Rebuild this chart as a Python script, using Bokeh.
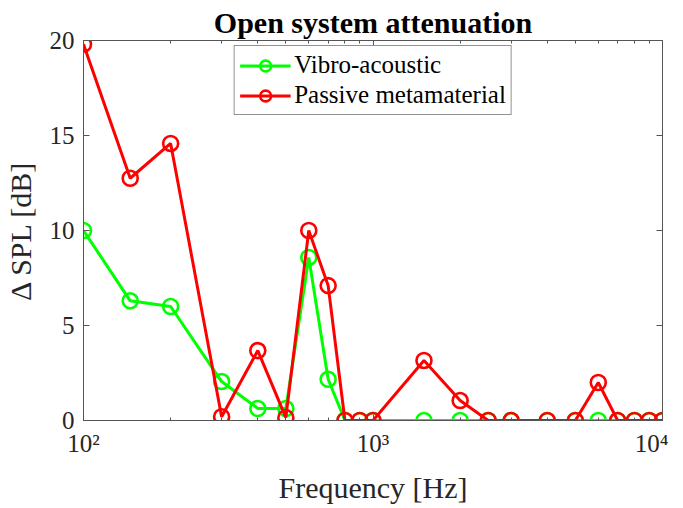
from bokeh.plotting import figure
from bokeh.models import LogAxis, LinearAxis, Range1d, FixedTicker, Legend, LegendItem
from bokeh.embed import file_html
from bokeh.resources import INLINE

freq = [100, 145, 200, 300, 400, 500, 600, 700, 800, 900, 1000, 1500, 2000,
        2500, 3000, 4000, 5000, 6000, 7000, 8000, 9000, 10000]
vibro = [10.0, 6.3, 6.0, 2.05, 0.63, 0.63, 8.58, 2.17, 0.0, 0.0, 0.0, 0.0, 0.0,
         0.0, 0.0, 0.0, 0.0, 0.0, 0.0, 0.0, 0.0, 0.0]
passive = [19.8, 12.75, 14.58, 0.2, 3.68, 0.15, 10.0, 7.1, 0.0, 0.0, 0.0, 3.16, 1.05,
           0.0, 0.0, 0.0, 0.0, 2.0, 0.0, 0.0, 0.0, 0.0]
x_ticks = [100, 1000, 10000]
x_labels = {100: "10\u00b2", 1000: "10\u00b3", 10000: "10\u2074"}
y_ticks = [0, 5, 10, 15, 20]
title_text = "Open system attenuation"

FONT = "Liberation Serif"
AX = "#555555"
TXT = "#262626"
MINOR = [200, 300, 400, 500, 600, 700, 800, 900, 2000, 3000, 4000, 5000, 6000, 7000, 8000, 9000]

p = figure(width=668, height=507, x_axis_type="log",
           x_range=Range1d(100, 10000), y_range=Range1d(0, 20),
           output_backend="svg", toolbar_location=None, title=title_text,
           min_border_left=81, min_border_right=6, min_border_top=40, min_border_bottom=87)

p.title.align = "center"
p.title.text_font = FONT
p.title.text_font_size = "30px"
p.title.text_font_style = "bold"
p.title.text_color = "black"
p.title.standoff = 4
p.title.text_line_height = 0.85

p.xgrid.visible = False
p.ygrid.visible = False
p.outline_line_color = AX
p.outline_line_width = 1
p.outline_line_alpha = 1

xa = p.xaxis[0]
xa.ticker = FixedTicker(ticks=x_ticks, minor_ticks=MINOR)
xa.major_label_overrides = x_labels
xa.axis_label = "Frequency [Hz]"
ya = p.yaxis[0]
ya.ticker = FixedTicker(ticks=y_ticks)
ya.axis_label = "\u0394 SPL [dB]"

for ax in (xa, ya):
    ax.axis_line_color = AX
    ax.major_tick_line_color = AX
    ax.minor_tick_line_color = AX
    ax.major_tick_in = 6
    ax.major_tick_out = 0
    ax.minor_tick_in = 3
    ax.minor_tick_out = 0
    ax.major_label_text_font = FONT
    ax.major_label_text_font_size = "25px"
    ax.major_label_text_color = TXT
    ax.axis_label_text_font = FONT
    ax.axis_label_text_font_size = "30px"
    ax.axis_label_text_font_style = "normal"
    ax.axis_label_text_color = TXT
xa.major_label_standoff = 9
xa.axis_label_standoff = 11
ya.major_label_standoff = 9
ya.axis_label_standoff = 10
ya.minor_tick_line_color = None

top = LogAxis(ticker=FixedTicker(ticks=x_ticks, minor_ticks=MINOR),
              major_label_text_font_size="1px", major_label_text_color=None, major_label_standoff=0,
              axis_line_color=AX, major_tick_line_color=AX, minor_tick_line_color=AX,
              major_tick_in=6, major_tick_out=0, minor_tick_in=3, minor_tick_out=0)
right = LinearAxis(ticker=FixedTicker(ticks=y_ticks),
                   major_label_text_font_size="1px", major_label_text_color=None, major_label_standoff=0,
                   axis_line_color=AX, major_tick_line_color=AX, minor_tick_line_color=None,
                   major_tick_in=6, major_tick_out=0)
p.add_layout(top, "above")
p.add_layout(right, "right")

GREEN = "#00ff00"
RED = "#ff0000"
gl = p.line(freq, vibro, line_color=GREEN, line_width=3)
gc = p.scatter(freq, vibro, marker="circle", size=15, fill_color=None,
               line_color=GREEN, line_width=2.6)
rl = p.line(freq, passive, line_color=RED, line_width=3)
rc = p.scatter(freq, passive, marker="circle", size=15, fill_color=None,
               line_color=RED, line_width=2.6)

legend = Legend(items=[LegendItem(label="Vibro-acoustic", renderers=[gl, gc]),
                       LegendItem(label="Passive metamaterial", renderers=[rl, rc])],
                location="top_center")
legend.label_text_font = FONT
legend.label_text_font_size = "25px"
legend.label_text_color = "black"
legend.glyph_width = 51
legend.glyph_height = 27
legend.label_height = 27
legend.spacing = 2
legend.padding = 5
legend.margin = 5
legend.label_standoff = 4
legend.border_line_color = TXT
legend.border_line_width = 1
legend.background_fill_alpha = 1
p.add_layout(legend, "center")

open("out.html", "w").write(file_html(p, INLINE))
